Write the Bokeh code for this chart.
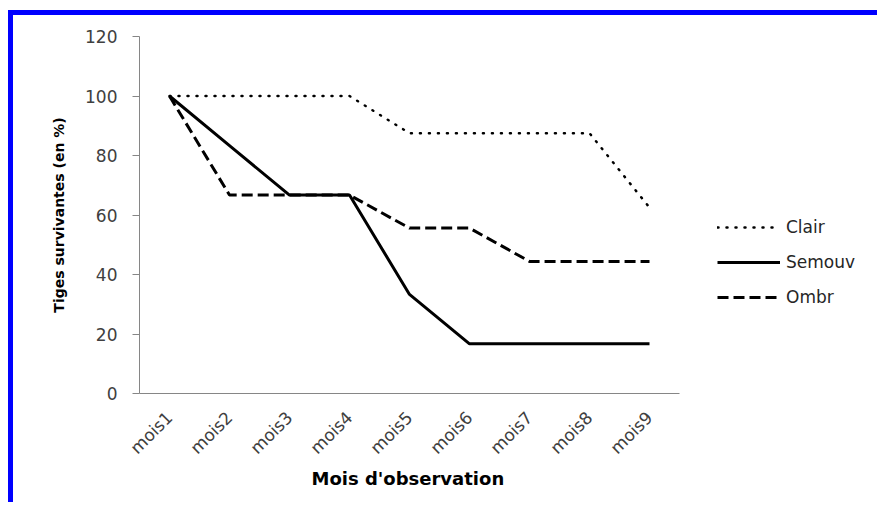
from bokeh.plotting import figure
from bokeh.models import Legend, LegendItem, FixedTicker, Range1d, Title
from bokeh.embed import file_html
from bokeh.resources import INLINE
import math

mois = ["mois1", "mois2", "mois3", "mois4", "mois5", "mois6", "mois7", "mois8", "mois9"]
clair = [100, 100, 100, 100, 87.5, 87.5, 87.5, 87.5, 62.5]
semouv = [100, 83.3, 66.7, 66.7, 33.3, 16.7, 16.7, 16.7, 16.7]
ombr = [100, 66.7, 66.7, 66.7, 55.6, 55.6, 44.4, 44.4, 44.4]
y_ticks = [0, 20, 40, 60, 80, 100, 120]
x_title = "Mois d'observation"
y_title = "Tiges survivantes (en %)"

# category positions on a numeric axis (category centres)
xpos = [i + 0.5 for i in range(len(mois))]

FONT = "DejaVu Sans"

W, H = 869, 492
LEFT = 126
CAT_PX = 60.0
p = figure(x_range=Range1d(0, (W - LEFT) / CAT_PX), y_range=(0, 120), width=W, height=H,
           output_backend="svg", toolbar_location=None,
           min_border_left=LEFT, min_border_right=0,
           min_border_top=21, min_border_bottom=H - 378)
p.styles = {"border-top": "5px solid #0000ff", "border-left": "5px solid #0000ff",
            "margin-top": "10px", "margin-left": "8px"}
p.outline_line_color = None
p.xgrid.grid_line_color = None
p.ygrid.grid_line_color = None
p.background_fill_color = "white"
p.border_fill_color = "white"

r1 = p.line(xpos, clair, line_color="black", line_width=2.5, line_dash="1 8", line_cap="round")
r2 = p.line(xpos, semouv, line_color="black", line_width=3)
r3 = p.line(xpos, ombr, line_color="black", line_width=3, line_dash="11 5")

ya = p.yaxis[0]
ya.ticker = FixedTicker(ticks=y_ticks)
ya.axis_line_color = "#868686"
ya.major_tick_line_color = "#868686"
ya.major_tick_out = 7
ya.major_tick_in = 0
ya.minor_tick_line_color = None
ya.major_label_text_font = FONT
ya.major_label_text_font_size = "17px"
ya.major_label_text_color = "#404040"
ya.major_label_standoff = 15
ya.axis_label = y_title
ya.axis_label_text_font = FONT
ya.axis_label_text_font_style = "bold"
ya.axis_label_text_font_size = "14px"
ya.axis_label_text_color = "black"
ya.axis_label_standoff = 15

xa = p.xaxis[0]
xa.bounds = (0, len(mois))
xa.ticker = FixedTicker(ticks=xpos)
xa.major_label_overrides = {x: m for x, m in zip(xpos, mois)}
xa.axis_line_color = "#868686"
xa.major_tick_line_color = None
xa.minor_tick_line_color = None
xa.major_label_orientation = math.pi / 4
xa.major_label_text_font = FONT
xa.major_label_text_font_size = "17px"
xa.major_label_text_color = "#404040"
xa.major_label_standoff = 15

# x-axis title, centred under the category span
xt = Title(text=x_title, align="left", offset=172, standoff=-3,
           text_font=FONT, text_font_style="bold", text_font_size="18px",
           text_color="black")
p.add_layout(xt, "below")

legend = Legend(items=[LegendItem(label="Clair", renderers=[r1]),
                       LegendItem(label="Semouv", renderers=[r2]),
                       LegendItem(label="Ombr", renderers=[r3])],
                location=(578, 86))
legend.glyph_width = 63
legend.glyph_height = 20
legend.label_height = 20
legend.spacing = 15
legend.padding = 0
legend.margin = 0
legend.label_standoff = 6
legend.border_line_color = None
legend.background_fill_alpha = 0
legend.label_text_font = FONT
legend.label_text_font_size = "17px"
legend.label_text_color = "#262626"
p.add_layout(legend, "center")

open("out.html", "w").write(file_html(p, INLINE))
